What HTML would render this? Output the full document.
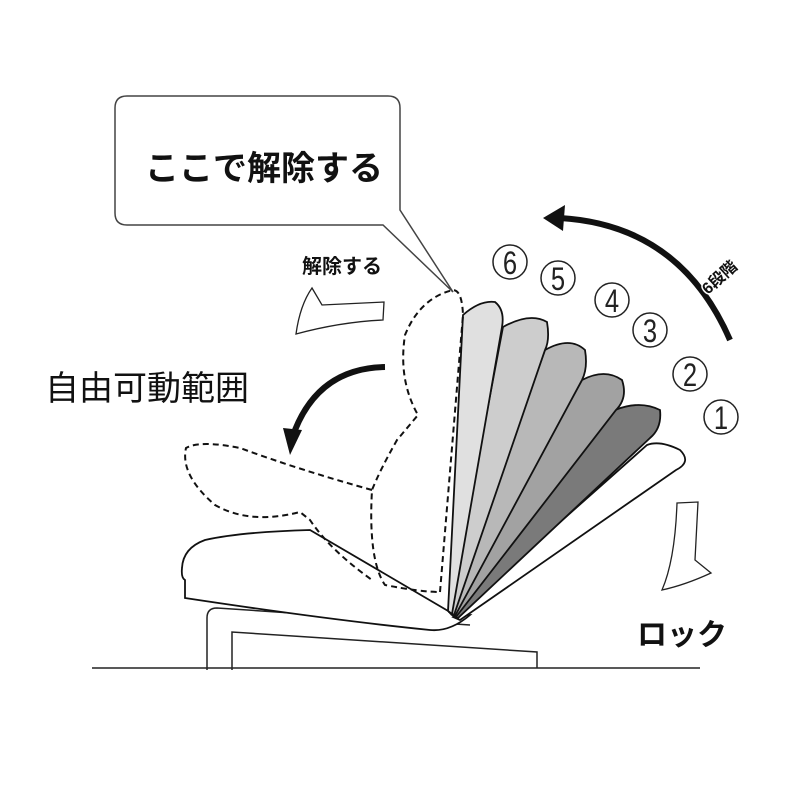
<!DOCTYPE html>
<html><head><meta charset="utf-8"><style>
html,body{margin:0;padding:0;background:#fff;}
svg{display:block;}
text{font-family:"Liberation Sans","Noto Sans CJK JP",sans-serif;}
</style></head><body>
<svg width="790" height="790" viewBox="0 0 790 790" xmlns="http://www.w3.org/2000/svg">
<rect width="790" height="790" fill="#fff"/>
<path d="M127,96 H388 Q400,96 400,108 V210 L453,292 L383,225 H127 Q115,225 115,213 V108 Q115,96 127,96 Z" fill="#fff" stroke="#444" stroke-width="1.5"/>
<text x="145" y="180" font-size="34" font-weight="bold" fill="#111">ここで解除する</text>
<text x="302" y="273" font-size="20" font-weight="bold" fill="#111">解除する</text>
<path d="M296,334 Q300,305 312,288 L322,305 L384,302 L383,320 Q340,322 296,334 Z" fill="#fff" stroke="#222" stroke-width="1.3"/>
<text x="45" y="400" font-size="34" fill="#111">自由可動範囲</text>
<path d="M385,367 Q320,368 295,430" fill="none" stroke="#111" stroke-width="6"/>
<path d="M283,428 L302,430 L290,455 Z" fill="#111"/>
<path d="M560,218 Q680,225 730,340" fill="none" stroke="#111" stroke-width="6"/>
<path d="M565,205 L543,218 L563,231 Z" fill="#111"/>
<text x="0" y="0" font-size="16" font-weight="bold" fill="#111" stroke="#fff" stroke-width="3" paint-order="stroke" transform="translate(708,295) rotate(-42)">6段階</text>
<g fill="#fff" stroke="#222" stroke-width="1.5">
<circle cx="510" cy="262" r="17"/><circle cx="558" cy="278" r="17"/><circle cx="612" cy="300" r="17"/>
<circle cx="650" cy="330" r="17"/><circle cx="690" cy="374" r="17"/><circle cx="721" cy="417" r="17"/>
</g>
<g font-size="32" fill="#222" text-anchor="middle">
<text x="510" y="274" transform="translate(510,0) scale(0.8,1) translate(-510,0)">6</text>
<text x="558" y="290" transform="translate(558,0) scale(0.8,1) translate(-558,0)">5</text>
<text x="612" y="312" transform="translate(612,0) scale(0.8,1) translate(-612,0)">4</text>
<text x="650" y="342" transform="translate(650,0) scale(0.8,1) translate(-650,0)">3</text>
<text x="690" y="386" transform="translate(690,0) scale(0.8,1) translate(-690,0)">2</text>
<text x="721" y="429" transform="translate(721,0) scale(0.8,1) translate(-721,0)">1</text>
</g>
<path d="M207,670 V618 Q207,608 217,608 L470,625" fill="none" stroke="#222" stroke-width="1.5"/>
<path d="M232,670 V632 L537,652 V668" fill="none" stroke="#222" stroke-width="1.5"/>
<line x1="92" y1="668" x2="700" y2="668" stroke="#222" stroke-width="1.5"/>
<path d="M310,530 Q240,532 205,540 Q183,548 182,568 Q181,578 185,580 L185,598 Q330,620 430,630 Q450,632 470,615 L455,615 Z" fill="#fff" stroke="#111" stroke-width="1.8"/>
<g stroke="#111" stroke-width="1.8">
<path d="M453,617 L647,445 Q660,440 680,450 Q692,462 676,470 L460,620 Z" fill="#fff"/>
<path d="M452,615 L615,410 Q640,400 660,410 Q662,428 650,438 L458,618 Z" fill="#7a7a7a"/>
<path d="M451,614 L582,380 Q605,368 622,380 Q628,398 616,410 L456,617 Z" fill="#a2a2a2"/>
<path d="M450,613 L545,350 Q570,336 585,350 Q588,368 582,380 L455,616 Z" fill="#b8b8b8"/>
<path d="M449,612 L503,327 Q530,312 547,322 Q550,340 545,350 L454,615 Z" fill="#cdcdcd"/>
<path d="M448,611 L463,315 Q480,300 495,302 Q505,310 502,327 L452,614 Z" fill="#e0e0e0"/>
</g>
<g fill="none" stroke="#111" stroke-width="2" stroke-dasharray="6,4">
<path d="M440,592 L463,315 Q462,290 453,290 Q420,298 405,335 Q398,380 418,415 L397,440 Q380,470 372,490 Q368,560 385,585 Q420,592 440,592"/>
<path d="M372,490 Q300,470 240,448 Q200,440 186,448 Q180,475 215,505 Q250,525 300,512 L310,520 Q330,550 372,580"/>
</g>
<path d="M677,503 L698,502 L695,560 L711,573 Q685,585 662,590 Q675,560 677,503 Z" fill="#fff" stroke="#222" stroke-width="1.3"/>
<text x="637" y="645" font-size="30" font-weight="bold" fill="#111">ロック</text>
</svg>
</body></html>
